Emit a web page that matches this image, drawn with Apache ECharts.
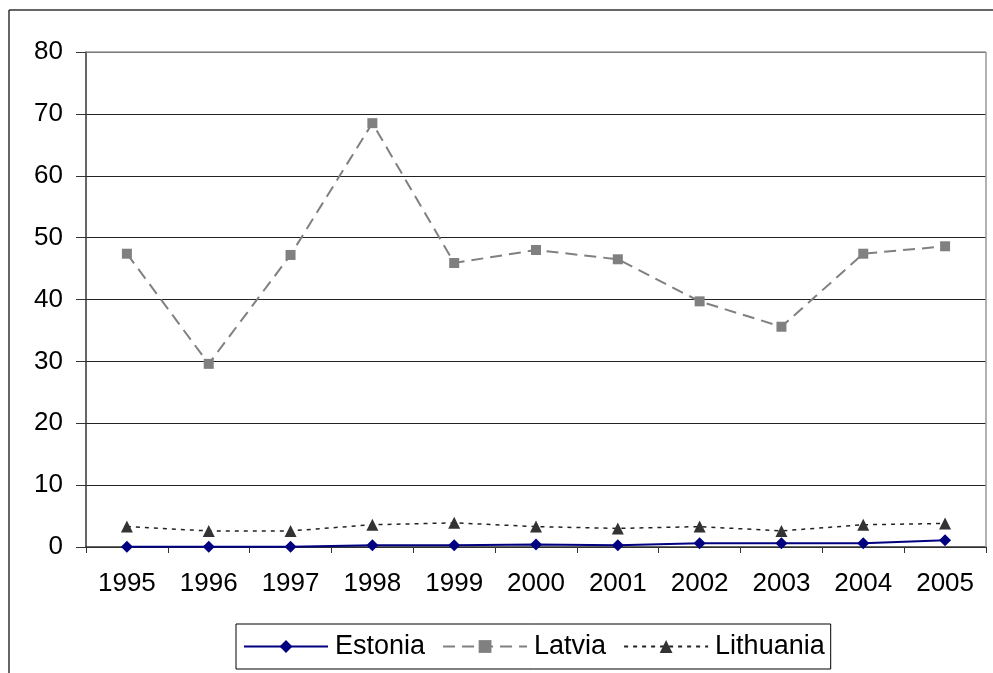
<!DOCTYPE html>
<html><head><meta charset="utf-8">
<script src="https://cdn.jsdelivr.net/npm/echarts@6/dist/echarts.min.js"></script>
<style>html,body{margin:0;padding:0;background:#fff}#c{width:993px;height:673px}</style>
</head><body><div id="c"></div>
<script>
const years = ['1995','1996','1997','1998','1999','2000','2001','2002','2003','2004','2005'];
const estonia = [0.05,0.05,0.05,0.3,0.3,0.4,0.3,0.6,0.6,0.6,1.1];
const latvia = [47.4,29.6,47.2,68.5,45.9,48.0,46.5,39.7,35.6,47.4,48.6];
const lithuania = [3.3,2.6,2.6,3.6,3.9,3.3,3.0,3.3,2.6,3.6,3.8];
const yTicks = [0,10,20,30,40,50,60,70,80];

const font = 'Liberation Sans, Arial, sans-serif';
const chart = echarts.init(document.getElementById('c'));
chart.setOption({
  animation: false,
  backgroundColor: '#fff',
  textStyle: {fontFamily: font},
  graphic: [
    {type:'line', shape:{x1:9,y1:10,x2:993,y2:10}, style:{stroke:'#333',lineWidth:1.5}},
    {type:'line', shape:{x1:9,y1:10,x2:9,y2:673}, style:{stroke:'#333',lineWidth:1.5}},
    {type:'line', shape:{x1:86,y1:52,x2:986,y2:52}, style:{stroke:'#999',lineWidth:1.5}, z:10},
    {type:'line', shape:{x1:986,y1:52,x2:986,y2:547}, style:{stroke:'#999',lineWidth:1.5}, z:10}
  ],
  grid: {left:86, right:7, top:52, bottom:126, containLabel:false},
  legend: {
    left: 236, top: 624,
    padding: [9, 6, 9, 7],
    borderColor: '#000', borderWidth: 1,
    itemWidth: 84, itemHeight: 16, itemGap: 17,
    textStyle: {fontSize: 27, color:'#000', fontFamily: font, padding:[0,0,0,2]},
    data: ['Estonia','Latvia','Lithuania']
  },
  xAxis: {
    type:'category', data: years, boundaryGap: true,
    axisLine:{lineStyle:{color:'#333', width:1.5}},
    axisTick:{show:true, length:6, lineStyle:{color:'#333'}},
    axisLabel:{fontSize:26, color:'#000', margin:24, fontFamily:font}
  },
  yAxis: {
    type:'value', min:0, max:80, interval:10,
    axisLine:{show:true, lineStyle:{color:'#333', width:1.5}},
    axisTick:{show:true, length:10, lineStyle:{color:'#333'}},
    axisLabel:{fontSize:26, color:'#000', margin:23, fontFamily:font,
      formatter: v => yTicks.includes(v) ? String(v) : ''},
    splitLine:{lineStyle:{color:'#222', width:1}}
  },
  series: [
    {name:'Estonia', type:'line', data: estonia, symbol:'diamond', symbolSize:12,
     lineStyle:{color:'#000080', width:2}, itemStyle:{color:'#000080'}, z:5},
    {name:'Latvia', type:'line', data: latvia, symbol:'rect', symbolSize:10,
     lineStyle:{color:'#808080', width:2, type:[12,7]}, itemStyle:{color:'#808080'}, z:4},
    {name:'Lithuania', type:'line', data: lithuania, symbol:'triangle', symbolSize:12,
     lineStyle:{color:'#222', width:1.5, type:[4,5]}, itemStyle:{color:'#333'}, z:3}
  ]
});
</script></body></html>
